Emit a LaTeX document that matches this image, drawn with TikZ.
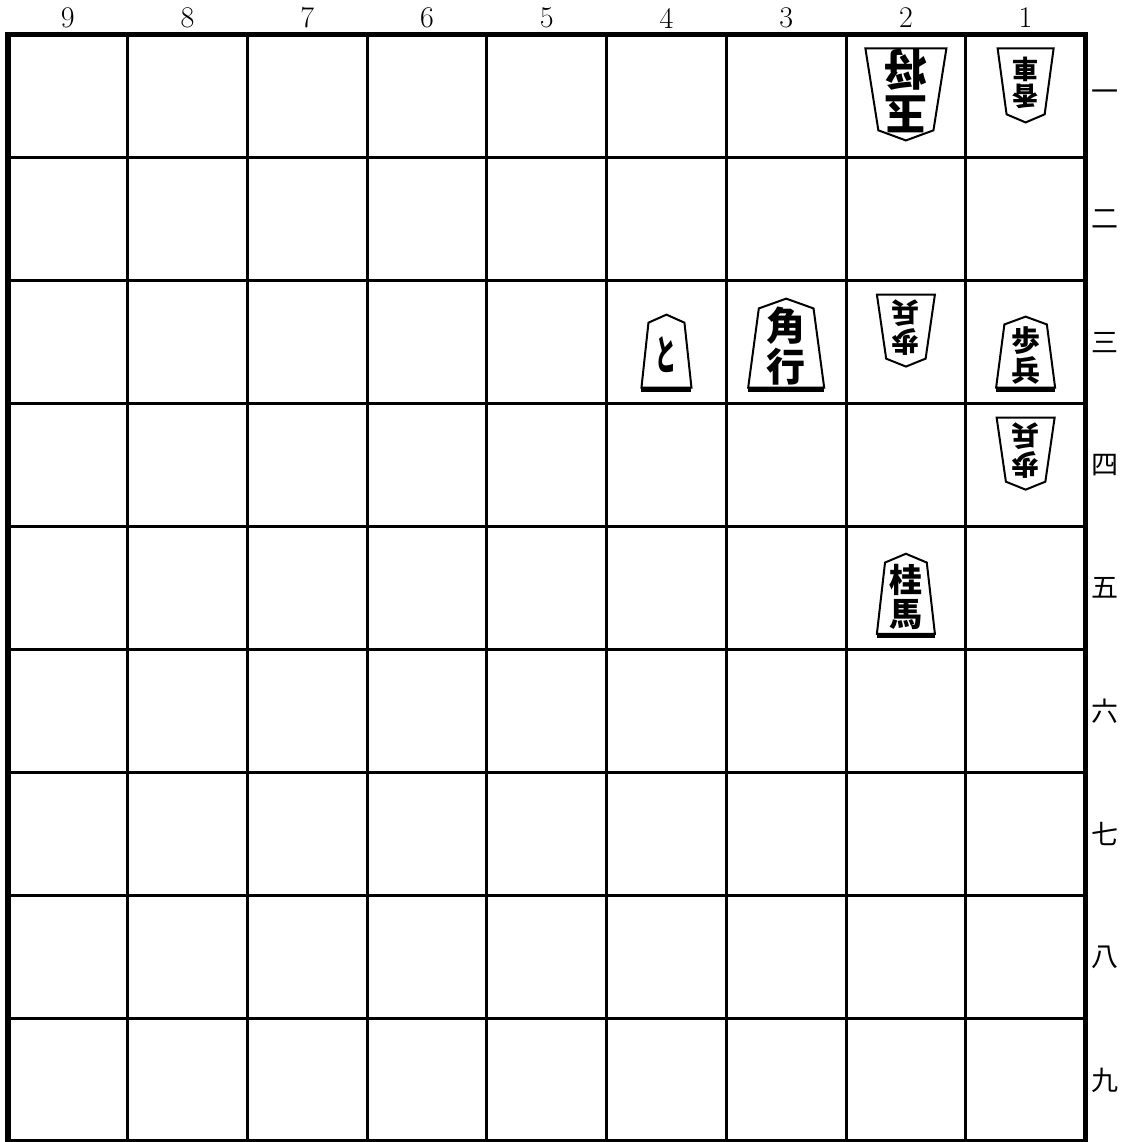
\documentclass[tikz,border=0pt]{standalone}
\usepackage{fontspec}
\usepackage{graphicx}
\newfontfamily\cjk{Noto Sans CJK JP}

\tikzset{
  piece/.style={draw=black, fill=white, line width=1pt, line join=miter},
  piecetext/.style={inner sep=0pt, align=center},
  filelabel/.style={font=\fontsize{15}{16}\selectfont, inner sep=0pt},
  ranklabel/.style={font=\cjk\fontsize{13.5}{14}\selectfont, inner sep=0pt},
}

% Sente piece: file, rank, width, height, font size (pt), text
\newcommand{\sentepiece}[6]{%
  \pgfmathsetmacro{\pcx}{8+(9-#1+0.5)*119.72}
  \pgfmathsetmacro{\pby}{(9-#2)*123.06+16}
  \pgfmathsetmacro{\pty}{\pby+#4}
  \pgfmathsetmacro{\pskip}{1.04*#5}
  \fill (\pcx-#3/2,\pby-4) rectangle (\pcx+#3/2,\pby);
  \draw[piece] (\pcx-#3/2,\pby) -- (\pcx-0.36*#3,\pty-0.11*#4) -- (\pcx,\pty)
    -- (\pcx+0.36*#3,\pty-0.11*#4) -- (\pcx+#3/2,\pby) -- cycle;
  \node[piecetext, font=\cjk\bfseries\fontsize{#5}{\pskip}\selectfont]
    (s#1#2) at (\pcx,{(\pby+\pty)/2-3}) {#6};
}

% Gote piece: file, rank, width, height, font size (pt), text
\newcommand{\gotepiece}[6]{%
  \pgfmathsetmacro{\pcx}{8+(9-#1+0.5)*119.72}
  \pgfmathsetmacro{\pty}{(10-#2)*123.06-14}
  \pgfmathsetmacro{\pby}{\pty-#4}
  \pgfmathsetmacro{\pskip}{1.04*#5}
  \draw[piece] (\pcx-#3/2,\pty) -- (\pcx+#3/2,\pty) -- (\pcx+0.34*#3,\pby+0.11*#4)
    -- (\pcx,\pby) -- (\pcx-0.34*#3,\pby+0.11*#4) -- cycle;
  \node[piecetext, rotate=180, font=\cjk\bfseries\fontsize{#5}{\pskip}\selectfont]
    (g#1#2) at (\pcx,{(\pby+\pty)/2+3}) {#6};
}

\begin{document}
\begin{tikzpicture}[x=0.5pt, y=0.5pt]
  \useasboundingbox (0,0) rectangle (1122,1142);

  % Grid
  \foreach \i in {1,...,8} {
    \draw[line width=1.5pt] ({8+\i*119.72},0) -- ({8+\i*119.72},1107.5);
    \draw[line width=1.5pt] (8,{\i*123.06}) -- (1085.5,{\i*123.06});
  }
  % Frame
  \draw[line width=2.75pt] (8,0) rectangle (1085.5,1107.5);

  % File numbers
  \foreach \f in {1,...,9}
    \node[filelabel] (f\f) at ({8+(9-\f+0.5)*119.72},1124) {\f};

  % Rank numbers
  \foreach \r/\k in {1/一,2/二,3/三,4/四,5/五,6/六,7/七,8/八,9/九}
    \node[ranklabel] (r\r) at (1105,{(9-\r+0.5)*123.06}) {\k};

  % Gote pieces
  \gotepiece{2}{1}{81}{92}{21.5}{玉\\将}
  \gotepiece{1}{1}{56}{74}{13}{香\\車}
  \gotepiece{2}{3}{58}{72}{14}{歩\\兵}
  \gotepiece{1}{4}{58}{72}{14}{歩\\兵}

  % Sente pieces
  \sentepiece{4}{3}{50}{73}{15}{\scalebox{0.7}[1.4]{と}}
  \sentepiece{3}{3}{76}{89}{19.5}{角\\行}
  \sentepiece{1}{3}{59}{71}{14.5}{歩\\兵}
  \sentepiece{2}{5}{58}{80}{16.5}{桂\\馬}
\end{tikzpicture}
\end{document}
